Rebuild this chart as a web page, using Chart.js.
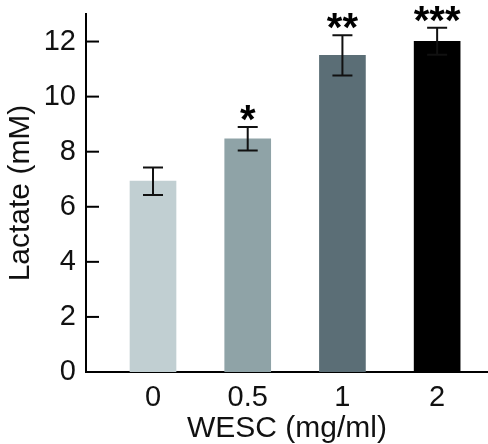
<!DOCTYPE html>
<html>
<head>
<meta charset="utf-8">
<script src="https://cdn.jsdelivr.net/npm/chart.js@4/dist/chart.umd.min.js"></script>
<style>
  html, body { margin: 0; padding: 0; background: #fff; }
  #wrap { width: 488px; height: 444px; position: relative; }
</style>
</head>
<body>
<div id="wrap"><canvas id="c" width="488" height="444"></canvas></div>
<script>
// ---- Data ----
const categories = ['0', '0.5', '1', '2'];
const lactate = [6.93, 8.47, 11.5, 12.01];
const errors = [0.5, 0.43, 0.73, 0.49];
const significance = ['', '*', '**', '***'];
const yTicks = [0, 2, 4, 6, 8, 10, 12];
const barColors = ['#c1cfd2', '#8fa3a7', '#5b6e76', '#000000'];

const FONT = "'Liberation Sans', Arial, Helvetica, sans-serif";

const overlay = {
  id: 'overlay',
  afterDatasetsDraw(chart) {
    const ctx = chart.ctx;
    const x = chart.scales.x, y = chart.scales.y;
    ctx.save();
    // inward y ticks
    ctx.strokeStyle = '#000';
    ctx.lineWidth = 2;
    yTicks.forEach(v => {
      const py = y.getPixelForValue(v);
      ctx.beginPath();
      ctx.moveTo(chart.chartArea.left, py);
      ctx.lineTo(chart.chartArea.left + 13, py);
      ctx.stroke();
    });
    // error bars + stars
    lactate.forEach((v, i) => {
      const px = x.getPixelForValue(i);
      const top = y.getPixelForValue(v + errors[i]);
      const bot = y.getPixelForValue(v - errors[i]);
      ctx.strokeStyle = '#111';
      ctx.lineWidth = 2;
      ctx.beginPath();
      ctx.moveTo(px, top); ctx.lineTo(px, bot);
      ctx.moveTo(px - 10, top); ctx.lineTo(px + 10, top);
      ctx.moveTo(px - 10, bot); ctx.lineTo(px + 10, bot);
      ctx.stroke();
      if (significance[i]) {
        ctx.fillStyle = '#000';
        ctx.font = 'bold 40px ' + FONT;
        ctx.textAlign = 'center';
        ctx.textBaseline = 'alphabetic';
        ctx.fillText(significance[i], px, top + 6);
      }
    });
    ctx.restore();
  }
};

new Chart(document.getElementById('c'), {
  type: 'bar',
  data: {
    datasets: [{
      data: lactate.map((v, i) => ({ x: i, y: v })),
      backgroundColor: barColors,
      borderWidth: 0,
      barThickness: 46
    }]
  },
  options: {
    responsive: false,
    animation: false,
    events: [],
    layout: { padding: { left: 0, right: 0, top: 14, bottom: 0 } },
    plugins: { legend: { display: false }, tooltip: { enabled: false } },
    scales: {
      x: {
        type: 'linear',
        offset: false,
        min: -0.7075,
        max: 3.537,
        afterBuildTicks: s => { s.ticks = categories.map((c, i) => ({ value: i })); },
        afterFit: s => { s.height = 72; s.paddingLeft = 0; s.paddingRight = 0; },
        grid: { display: false, drawTicks: false },
        border: { display: true, color: '#000', width: 2 },
        ticks: {
          color: '#111',
          font: { family: FONT, size: 29 },
          padding: 9,
          autoSkip: false,
          maxRotation: 0,
          callback: v => categories[v]
        },
        title: {
          display: true,
          text: 'WESC (mg/ml)',
          color: '#111',
          font: { family: FONT, size: 30 },
          padding: { top: 0, bottom: -3 }
        }
      },
      y: {
        min: 0,
        max: 13,
        afterBuildTicks: s => { s.ticks = yTicks.map(v => ({ value: v })); },
        afterFit: s => { s.width = 86; s.paddingTop = 0; s.paddingBottom = 0; },
        grid: { display: false, drawTicks: false },
        border: { display: true, color: '#000', width: 2 },
        ticks: {
          color: '#111',
          font: { family: FONT, size: 29 },
          padding: 10
        },
        title: {
          display: true,
          text: 'Lactate (mM)',
          color: '#111',
          font: { family: FONT, size: 30 },
          padding: { top: 3, bottom: 0 }
        }
      }
    }
  },
  plugins: [overlay]
});
</script>
</body>
</html>
